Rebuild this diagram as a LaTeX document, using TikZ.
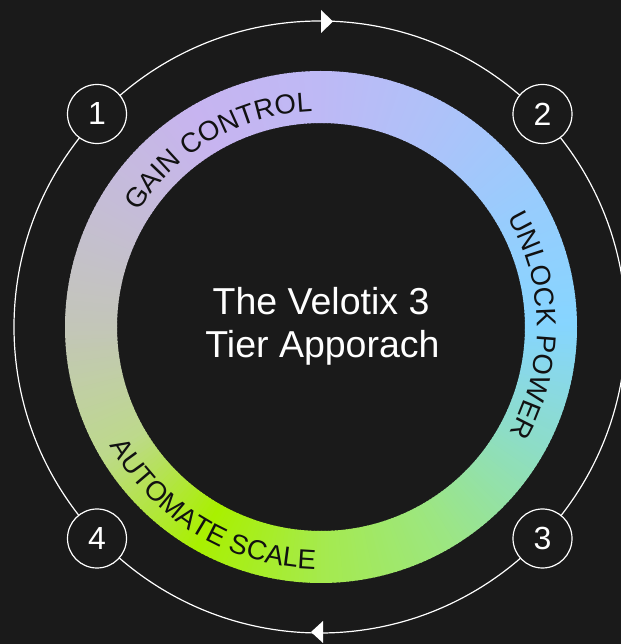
\documentclass[tikz,border=0pt]{standalone}
\usepackage{fontspec}
\setmainfont{Liberation Sans}
\usetikzlibrary{decorations.text}
\definecolor{bg}{HTML}{1A1A1A}
\definecolor{ringtext}{HTML}{111111}
\definecolor{c0}{HTML}{86D5FF}
\definecolor{c1}{HTML}{98CCFD}
\definecolor{c2}{HTML}{AEC2F9}
\definecolor{c3}{HTML}{BEB9F5}
\definecolor{c4}{HTML}{C7B4F0}
\definecolor{c5}{HTML}{C5BDD6}
\definecolor{c6}{HTML}{C3C6B8}
\definecolor{c7}{HTML}{BDD98C}
\definecolor{c8}{HTML}{A9F000}
\definecolor{c9}{HTML}{A5EA4E}
\definecolor{c10}{HTML}{9CE682}
\definecolor{c11}{HTML}{8DDDC6}
\definecolor{c12}{HTML}{86D5FF}
\newcommand\ringfont{\fontsize{27.5}{27.5}\selectfont}
\tikzset{
  numc/.style={circle, draw=white, line width=1.2pt, fill=bg, minimum size=59pt,
    inner sep=0pt, text=white, font=\fontsize{32}{32}\selectfont},
  titletext/.style={text=white, inner sep=0pt, font=\fontsize{37.5}{43}\selectfont},
  ringlabel/.style={decorate, decoration={text along path, text align=center,
    text color=ringtext, text={|\ringfont|#1}}},
  orbit/.style={draw=white, line width=1.2pt},
  tip/.style={fill=white}
}
\begin{document}
\begin{tikzpicture}[x=1pt,y=1pt]
\useasboundingbox (0,0) rectangle (621,644);
\fill[bg] (0,0) rectangle (621,644);
\clip (0,0) rectangle (621,644);
\coordinate (O) at (320,317);
% outer orbit
\draw[orbit] (O) circle[radius=306];
\fill[tip] (321,634) -- (333,622.5) -- (321,611) -- cycle;
\fill[tip] (311,12) -- (323,23) -- (323,1) -- cycle;
% gradient ring
\begin{scope}[shift={(321,317)}]
\foreach \i in {0,...,359}{
  \pgfmathtruncatemacro{\k}{int(\i/30)}
  \pgfmathtruncatemacro{\kn}{\k+1}
  \pgfmathtruncatemacro{\p}{round((\i-30*\k)/30*100)}
  \pgfmathsetmacro{\j}{\i+1.3}
  \colorlet{segc}{c\kn!\p!c\k}
  \fill[segc] (\i:204) arc[start angle=\i, end angle=\j, radius=204]
     -- (\j:256) arc[start angle=\j, end angle=\i, radius=256] -- cycle;
}
\path[ringlabel={GAIN CONTROL}] (180:216) arc[start angle=180, end angle=60, radius=216];
\path[ringlabel={UNLOCK POWER}] (60.5:216) arc[start angle=60.5, end angle=-59.5, radius=216];
\path[ringlabel={AUTOMATE SCALE}] (179:242) arc[start angle=179, end angle=299, radius=242];
\end{scope}
% numbered markers
\node[numc] (n1) at (97,530) {1};
\node[numc] (n2) at (542.5,530) {2};
\node[numc] (n3) at (542.5,105.5) {3};
\node[numc] (n4) at (97,105.5) {4};
% title
\node[titletext, anchor=base] (t1) at (321,329) {The Velotix 3};
\node[titletext, anchor=base] (t2) at (322.5,286) {Tier Apporach};
\end{tikzpicture}
\end{document}
